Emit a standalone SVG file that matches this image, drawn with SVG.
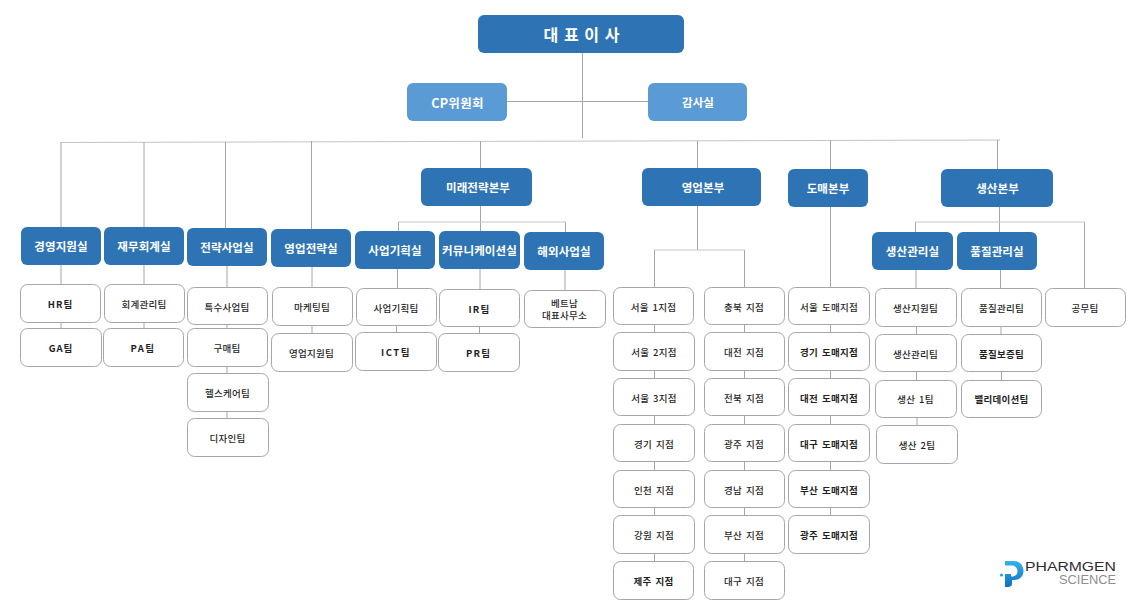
<svg xmlns="http://www.w3.org/2000/svg" width="1137" height="609" viewBox="0 0 1137 609">
<defs><linearGradient id="pg" x1="0" y1="0" x2="0" y2="1"><stop offset="0" stop-color="#35b2f0"/><stop offset="1" stop-color="#0f6fc0"/></linearGradient></defs>
<style>
text{font-family:"Noto Sans CJK KR","Liberation Sans",sans-serif;text-anchor:middle;dominant-baseline:central}
.b rect{fill:#2e74b5}
.l rect{fill:#5b9bd5}
.b text,.l text{fill:#fff;font-size:11.5px;font-weight:700;letter-spacing:.1px}
.w rect{fill:#fff;stroke:#a6a6a6;stroke-width:1}
.w text{fill:#1f1f1f;font-size:9.5px;font-weight:500;letter-spacing:.25px;word-spacing:1.5px}
.w text.s{font-weight:700}
#connectors path{fill:none;stroke:#a6a6a6;stroke-width:1}
#connectors path.lt{stroke:#c4c4c4}
</style>
<rect width="1137" height="609" fill="#fff"/>
<g id="connectors">
<path d="M582.500 53V138M507 101.500H648"/>
<path class="lt" d="M61 142.500L1000 140"/>
<path d="M61 142V227M144 142V227M225.500 142V228M311.500 141V229M480.500 141V168M697.500 141V168M830.500 140V169M997.500 140V169"/>
<path d="M61 265V284M61 323V328M144 265V284M144 323V328M227 266V287M227 324V328M227 367V373M227 412V418M312 267V287M312 326V333"/>
<path d="M480.500 206V231M565.500 222V232M398.500 222V231"/>
<path class="lt" d="M398 222H566"/>
<path d="M397.500 269V288M396.500 326V332M480 269V289M479.500 327V333M565 270V290"/>
<path d="M697.500 206V250M654.500 250V287M744.500 250V287"/>
<path class="lt" d="M654 250H745"/>
<path d="M654.500 325V332M654.500 371V378M654.500 416V424M654.500 462V470M654.500 508V515M654.500 554V561M744.500 325V332M744.500 371V378M744.500 416V424M744.500 462V470M744.500 508V515M744.500 554V561"/>
<path d="M830.500 207V287M830.500 325V332M830.500 371V378M830.500 416V424M830.500 462V470M830.500 508V515"/>
<path d="M999.500 207V232M915.500 222V232M1084.500 222V288"/>
<path class="lt" d="M915 222H1085"/>
<path d="M916 270V288M916.500 326V334M916.500 372V380M917 418V425M1000.500 270V288M1001 326V334M1001.500 372V380"/>
</g>
<g id="n0" class="b"><rect x="478" y="15" width="206" height="38" rx="6"/><text x="582" y="33.500" style="font-size:16px;letter-spacing:1px">대 표 이 사</text></g>
<g id="n1" class="l"><rect x="407" y="83" width="100" height="38" rx="6"/><text x="457.500" y="102" style="font-size:12.500px;letter-spacing:.3px">CP위원회</text></g>
<g id="n2" class="l"><rect x="648" y="83" width="99" height="38" rx="6"/><text x="698" y="102">감사실</text></g>
<g id="n3" class="b"><rect x="421" y="168" width="111" height="38" rx="6"/><text x="478" y="187">미래전략본부</text></g>
<g id="n4" class="b"><rect x="642" y="168" width="119" height="38" rx="6"/><text x="703" y="187">영업본부</text></g>
<g id="n5" class="b"><rect x="788" y="169" width="80" height="38" rx="6"/><text x="828" y="188">도매본부</text></g>
<g id="n6" class="b"><rect x="941" y="169" width="112" height="38" rx="6"/><text x="997.500" y="188">생산본부</text></g>
<g id="n7" class="b"><rect x="21" y="227" width="80" height="38" rx="6"/><text x="61" y="246">경영지원실</text></g>
<g id="n8" class="b"><rect x="104" y="227" width="80" height="38" rx="6"/><text x="144" y="246">재무회계실</text></g>
<g id="n9" class="b"><rect x="187" y="228" width="80" height="38" rx="6"/><text x="227" y="247">전략사업실</text></g>
<g id="n10" class="b"><rect x="271" y="229" width="80" height="38" rx="6"/><text x="311" y="248">영업전략실</text></g>
<g id="n11" class="b"><rect x="355" y="231" width="80" height="38" rx="6"/><text x="395" y="250">사업기획실</text></g>
<g id="n12" class="b"><rect x="439" y="231" width="81" height="38" rx="6"/><text x="479.500" y="250">커뮤니케이션실</text></g>
<g id="n13" class="b"><rect x="524" y="232" width="80" height="38" rx="6"/><text x="564" y="251">해외사업실</text></g>
<g id="n14" class="b"><rect x="872" y="232" width="81" height="38" rx="6"/><text x="912.500" y="251">생산관리실</text></g>
<g id="n15" class="b"><rect x="957" y="232" width="80" height="38" rx="6"/><text x="997" y="251">품질관리실</text></g>
<g id="n16" class="w"><rect x="20.500" y="284.500" width="80" height="38" rx="7"/><text x="60.500" y="304" class="s" style="letter-spacing:1px">HR팀</text></g>
<g id="n17" class="w"><rect x="20.500" y="328.500" width="81" height="38" rx="7"/><text x="61" y="348" class="s" style="letter-spacing:1px">GA팀</text></g>
<g id="n18" class="w"><rect x="104.500" y="284.500" width="80" height="38" rx="7"/><text x="144" y="304">회계관리팀</text></g>
<g id="n19" class="w"><rect x="103.500" y="328.500" width="80" height="38" rx="7"/><text x="143" y="348" class="s" style="letter-spacing:1.500px">PA팀</text></g>
<g id="n20" class="w"><rect x="187.500" y="287.500" width="80" height="37" rx="7"/><text x="227" y="306.500">특수사업팀</text></g>
<g id="n21" class="w"><rect x="187.500" y="328.500" width="80" height="38" rx="7"/><text x="227" y="348">구매팀</text></g>
<g id="n22" class="w"><rect x="187.500" y="373.500" width="81" height="38" rx="7"/><text x="227.500" y="393">헬스케어팀</text></g>
<g id="n23" class="w"><rect x="187.500" y="418.500" width="81" height="38" rx="7"/><text x="227.500" y="438">디자인팀</text></g>
<g id="n24" class="w"><rect x="272.500" y="287.500" width="80" height="38" rx="7"/><text x="312" y="307">마케팅팀</text></g>
<g id="n25" class="w"><rect x="271.500" y="333.500" width="81" height="38" rx="7"/><text x="311.500" y="353">영업지원팀</text></g>
<g id="n26" class="w"><rect x="356.500" y="288.500" width="80" height="37" rx="7"/><text x="396" y="307.500">사업기획팀</text></g>
<g id="n27" class="w"><rect x="355.500" y="332.500" width="81" height="38" rx="7"/><text x="396" y="352" class="s" style="letter-spacing:1.500px">ICT팀</text></g>
<g id="n28" class="w"><rect x="439.500" y="289.500" width="80" height="37" rx="7"/><text x="479.500" y="308.500" class="s" style="letter-spacing:1.200px">IR팀</text></g>
<g id="n29" class="w"><rect x="438.500" y="333.500" width="81" height="38" rx="7"/><text x="478.500" y="353" class="s" style="letter-spacing:1.200px">PR팀</text></g>
<g id="n30" class="w"><rect x="524.500" y="290.500" width="81" height="37" rx="7"/><text x="564.500" y="303">베트남</text><text x="564.500" y="315">대표사무소</text></g>
<g id="n31" class="w"><rect x="613.500" y="287.500" width="80" height="37" rx="7"/><text x="653.500" y="306.500">서울 1지점</text></g>
<g id="n32" class="w"><rect x="613.500" y="332.500" width="81" height="38" rx="7"/><text x="654" y="352">서울 2지점</text></g>
<g id="n33" class="w"><rect x="613.500" y="378.500" width="81" height="37" rx="7"/><text x="654" y="398">서울 3지점</text></g>
<g id="n34" class="w"><rect x="613.500" y="424.500" width="81" height="37" rx="7"/><text x="654" y="443.500">경기 지점</text></g>
<g id="n35" class="w"><rect x="613.500" y="470.500" width="81" height="37" rx="7"/><text x="654" y="489.500">인천 지점</text></g>
<g id="n36" class="w"><rect x="613.500" y="515.500" width="81" height="38" rx="7"/><text x="654" y="535">강원 지점</text></g>
<g id="n37" class="w"><rect x="613.500" y="561.500" width="80" height="38" rx="7"/><text x="653.500" y="581" class="s">제주 지점</text></g>
<g id="n38" class="w"><rect x="704.500" y="287.500" width="80" height="37" rx="7"/><text x="744" y="306.500">충북 지점</text></g>
<g id="n39" class="w"><rect x="704.500" y="332.500" width="80" height="38" rx="7"/><text x="744" y="352">대전 지점</text></g>
<g id="n40" class="w"><rect x="704.500" y="378.500" width="80" height="37" rx="7"/><text x="744" y="398">전북 지점</text></g>
<g id="n41" class="w"><rect x="704.500" y="424.500" width="80" height="37" rx="7"/><text x="744" y="443.500">광주 지점</text></g>
<g id="n42" class="w"><rect x="704.500" y="470.500" width="80" height="37" rx="7"/><text x="744" y="489.500">경남 지점</text></g>
<g id="n43" class="w"><rect x="704.500" y="515.500" width="80" height="38" rx="7"/><text x="744" y="535">부산 지점</text></g>
<g id="n44" class="w"><rect x="704.500" y="561.500" width="80" height="38" rx="7"/><text x="744" y="581">대구 지점</text></g>
<g id="n45" class="w"><rect x="788.500" y="287.500" width="81" height="37" rx="7"/><text x="829" y="306.500">서울 도매지점</text></g>
<g id="n46" class="w"><rect x="788.500" y="332.500" width="81" height="38" rx="7"/><text x="829" y="352" class="s">경기 도매지점</text></g>
<g id="n47" class="w"><rect x="788.500" y="378.500" width="81" height="37" rx="7"/><text x="829" y="398" class="s">대전 도매지점</text></g>
<g id="n48" class="w"><rect x="788.500" y="424.500" width="81" height="37" rx="7"/><text x="829" y="443.500" class="s">대구 도매지점</text></g>
<g id="n49" class="w"><rect x="788.500" y="470.500" width="81" height="37" rx="7"/><text x="829" y="489.500" class="s">부산 도매지점</text></g>
<g id="n50" class="w"><rect x="788.500" y="515.500" width="81" height="38" rx="7"/><text x="829" y="535" class="s">광주 도매지점</text></g>
<g id="n51" class="w"><rect x="875.500" y="288.500" width="81" height="38" rx="7"/><text x="915.500" y="308">생산지원팀</text></g>
<g id="n52" class="w"><rect x="875.500" y="334.500" width="81" height="37" rx="7"/><text x="915.500" y="353.500">생산관리팀</text></g>
<g id="n53" class="w"><rect x="875.500" y="380.500" width="81" height="37" rx="7"/><text x="915.500" y="399">생산 1팀</text></g>
<g id="n54" class="w"><rect x="876.500" y="425.500" width="81" height="38" rx="7"/><text x="917" y="445">생산 2팀</text></g>
<g id="n55" class="w"><rect x="961.500" y="288.500" width="80" height="38" rx="7"/><text x="1001.500" y="308">품질관리팀</text></g>
<g id="n56" class="w"><rect x="961.500" y="334.500" width="80" height="37" rx="7"/><text x="1001.500" y="353.500" class="s">품질보증팀</text></g>
<g id="n57" class="w"><rect x="961.500" y="380.500" width="80" height="37" rx="7"/><text x="1001.500" y="399" class="s">밸리데이션팀</text></g>
<g id="n58" class="w"><rect x="1045.500" y="288.500" width="80" height="38" rx="7"/><text x="1085" y="308">공무팀</text></g>
<g id="logo">
<circle cx="1001.500" cy="575" r="1.500" fill="#1f9ae0"/>
<path d="M1005 561H1014C1020 561 1023.500 566 1023.500 571C1023.500 577 1019 580 1014 580H1012V584C1012 586 1010 587 1008 587H1005V574H1011V575.500C1011 576.500 1012 577 1013 576.500C1016 576 1017.500 574 1017.500 571C1017.500 568 1015 565.500 1012 565.500H1005Z" fill="url(#pg)"/>
<text x="1070.500" y="566.500" textLength="91" lengthAdjust="spacingAndGlyphs" style="font-family:'Liberation Sans',sans-serif;font-size:12.500px;fill:#2b2b33">PHARMGEN</text>
<text x="1087.500" y="580" textLength="57" lengthAdjust="spacingAndGlyphs" style="font-family:'Liberation Sans',sans-serif;font-size:12px;fill:#8a8f94">SCIENCE</text>
</g>
</svg>
